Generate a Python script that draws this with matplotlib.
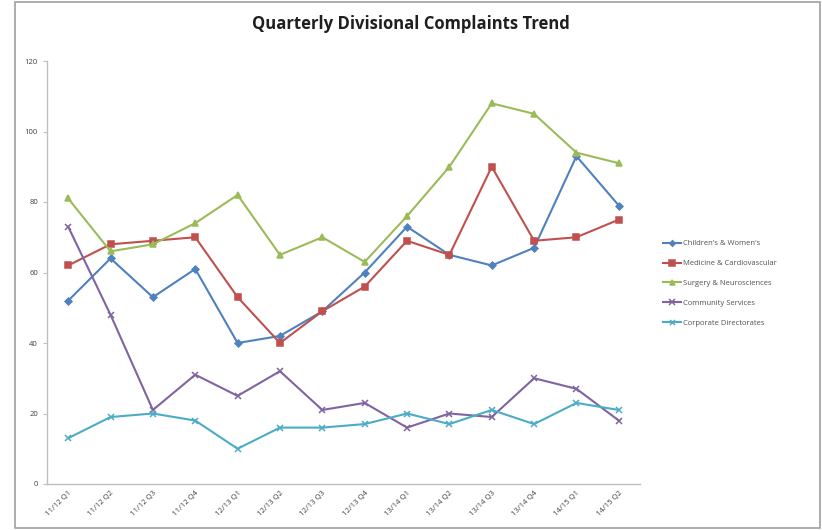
import matplotlib
matplotlib.use("Agg")
import matplotlib.pyplot as plt
from matplotlib.patches import Rectangle

quarters = ["11/12 Q1", "11/12 Q2", "11/12 Q3", "11/12 Q4",
            "12/13 Q1", "12/13 Q2", "12/13 Q3", "12/13 Q4",
            "13/14 Q1", "13/14 Q2", "13/14 Q3", "13/14 Q4",
            "14/15 Q1", "14/15 Q2"]

childrens_womens = [52, 64, 53, 61, 40, 42, 49, 60, 73, 65, 62, 67, 93, 79]
medicine_cardio = [62, 68, 69, 70, 53, 40, 49, 56, 69, 65, 90, 69, 70, 75]
surgery_neuro = [81, 66, 68, 74, 82, 65, 70, 63, 76, 90, 108, 105, 94, 91]
community = [73, 48, 21, 31, 25, 32, 21, 23, 16, 20, 19, 30, 27, 18]
corporate = [13, 19, 20, 18, 10, 16, 16, 17, 20, 17, 21, 17, 23, 21]

series = [
    ("Children's & Women's", childrens_womens, "#4F81BD", "D", 3.5),
    ("Medicine & Cardiovascular", medicine_cardio, "#C0504D", "s", 5),
    ("Surgery & Neurosciences", surgery_neuro, "#9BBB59", "^", 4.5),
    ("Community Services", community, "#8064A2", "x", 5),
    ("Corporate Directorates", corporate, "#4BACC6", "x", 4.5),
]

plt.rcParams["font.family"] = ["Open Sans", "DejaVu Sans"]

fig = plt.figure(figsize=(8.22, 5.30), dpi=100)
fig.patch.set_facecolor("white")

# outer chart frame
fig.add_artist(Rectangle((15 / 822, 2 / 530), 805 / 822, 526 / 530,
                         transform=fig.transFigure, fill=False,
                         edgecolor="#A0A0A0", linewidth=1.2))

ax = fig.add_axes([47 / 822, 1 - 484 / 530, 593 / 822, (484 - 61) / 530])

x = list(range(len(quarters)))
for name, vals, color, marker, ms in series:
    ax.plot(x, vals, color=color, linewidth=1.5, marker=marker,
            markersize=ms, markeredgewidth=1.1, label=name)

ax.set_xlim(-0.5, len(quarters) - 0.5)
ax.set_ylim(0, 120)
ax.set_yticks(range(0, 121, 20))
ax.set_xticks(x)
ax.set_xticklabels(quarters, rotation=45, ha="right", rotation_mode="anchor",
                   fontsize=5.5, color="#404040")
ax.tick_params(axis="y", labelsize=5.5, labelcolor="#404040",
               length=3, color="#BFBFBF")
ax.tick_params(axis="x", length=0, pad=4)

for side in ("top", "right"):
    ax.spines[side].set_visible(False)
for side in ("left", "bottom"):
    ax.spines[side].set_color("#BFBFBF")
    ax.spines[side].set_linewidth(1.0)

fig.text(0.5, 1 - 24 / 530, "Quarterly Divisional Complaints Trend",
         ha="center", va="center", fontsize=12, fontweight="bold",
         color="#1F1F1F")

leg = fig.legend(loc="upper left", bbox_to_anchor=(656 / 822, 1 - 233 / 530),
                 frameon=False, fontsize=5.5, labelspacing=1.65,
                 handlelength=2.4, handletextpad=0.2, markerscale=0.8)
for t in leg.get_texts():
    t.set_color("#505050")

fig.savefig("out.png", dpi=100, facecolor="white")
